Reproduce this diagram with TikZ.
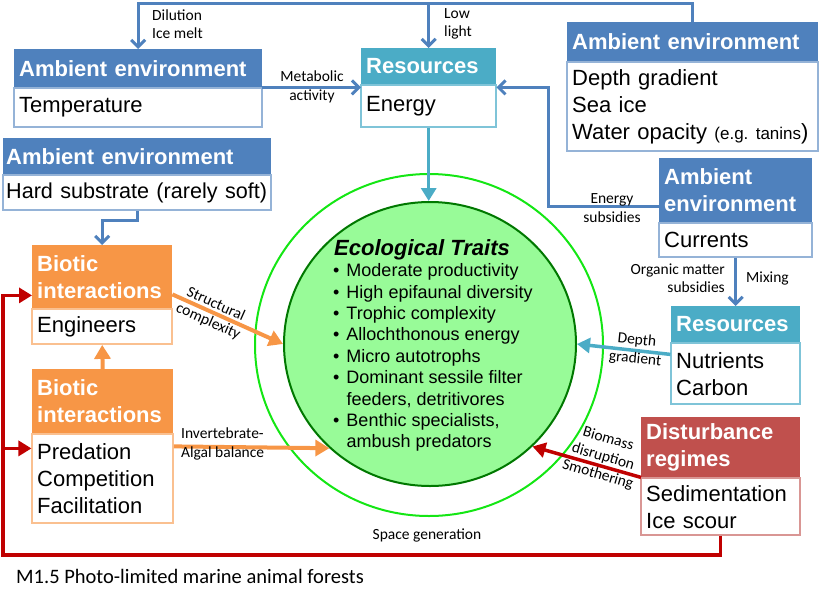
\documentclass[tikz,border=0pt]{standalone}
\usepackage{fontspec}
\setmainfont{Liberation Sans}
\newfontfamily\calibri{Carlito}
\usetikzlibrary{arrows.meta, positioning, shapes.geometric, calc}
\definecolor{ambient}{HTML}{4F81BD}
\definecolor{ambientln}{HTML}{95B3D7}
\definecolor{resource}{HTML}{4BACC6}
\definecolor{resourceln}{HTML}{7FC4D8}
\definecolor{biotic}{HTML}{F79646}
\definecolor{bioticln}{HTML}{FAC090}
\definecolor{disturb}{HTML}{C0504D}
\definecolor{disturbln}{HTML}{D99694}
\definecolor{deepred}{HTML}{C00000}
\definecolor{ringgreen}{RGB}{20,230,20}
\definecolor{discgreen}{RGB}{152,251,152}
\definecolor{discline}{RGB}{0,120,0}
\newcommand{\boxfont}{\fontsize{22}{27}\selectfont}
\frenchspacing
\tikzset{
    hdr/.style={
        fill=#1,
        text=white,
        font=\boxfont\bfseries,
        inner xsep=5pt,
        inner ysep=0pt,
        align=left
    },
    bodybox/.style={
        draw=#1,
        fill=white,
        line width=1.5pt,
        font=\boxfont,
        inner xsep=5pt,
        inner ysep=0pt,
        align=left
    },
    outerring/.style={ellipse, draw=ringgreen, line width=2pt, inner sep=0pt},
    traitsdisc/.style={ellipse, draw=discline, fill=discgreen, line width=2pt, inner sep=0pt},
    lbl/.style={font=\calibri\fontsize{15.5}{18.5}\selectfont, align=center, inner sep=1pt},
    bluearr/.style={draw=ambient, line width=3pt, line join=miter, -{Straight Barb[length=7pt, width=14pt]}},
    tealarr/.style={draw=resource, line width=3.5pt, -{Triangle[length=13pt, width=15pt]}},
    orangearr/.style={draw=biotic, line width=4pt, -{Triangle[length=14pt, width=16pt]}},
    redarr/.style={draw=deepred, line width=3.5pt, line join=miter, -{Triangle[length=13pt, width=15pt]}}
}

\begin{document}
\begin{tikzpicture}[x=1pt, y=-1pt]
\useasboundingbox (0,0) rectangle (819,600);

\node[hdr=ambient, text width=238pt, minimum height=38pt, anchor=north west] (tempH) at (14,49) {Ambient environment};
\node[bodybox=ambientln, text width=238pt, minimum height=39pt, below=0pt of tempH] (temp) {Temperature};

\node[hdr=ambient, text width=262pt, inner xsep=3pt, minimum height=36pt, anchor=north west] (hardH) at (3,138) {Ambient environment};
\node[bodybox=ambientln, text width=262pt, inner xsep=3pt, minimum height=35pt, below=0pt of hardH] (hard) {\fontsize{21.6}{27}\selectfont\mbox{Hard substrate (rarely soft)}};

\node[hdr=resource, text width=125pt, minimum height=36pt, anchor=north west] (energyH) at (361,48) {Resources};
\node[bodybox=resourceln, text width=125pt, minimum height=42pt, below=0pt of energyH] (energy) {Energy};

\node[hdr=ambient, text width=241pt, minimum height=39pt, anchor=north west] (depthH) at (567,22) {Ambient environment};
\node[bodybox=ambientln, text width=241pt, minimum height=89pt, below=0pt of depthH] (depth) {Depth gradient\\Sea ice\\Water opacity {\fontsize{17}{27}\selectfont(e.g. tanins})};

\node[hdr=ambient, text width=143pt, minimum height=64pt, anchor=north west] (currH) at (659,158) {Ambient\\environment};
\node[bodybox=ambientln, text width=143pt, minimum height=34pt, below=0pt of currH] (curr) {Currents};

\node[hdr=resource, text width=119pt, minimum height=36pt, anchor=north west] (nutrH) at (671,306) {Resources};
\node[bodybox=resourceln, text width=119pt, minimum height=61pt, below=0pt of nutrH] (nutr) {Nutrients\\Carbon};

\node[hdr=biotic, text width=130pt, minimum height=63pt, anchor=north west] (bioAH) at (32,245) {Biotic\\interactions};
\node[bodybox=bioticln, text width=130pt, minimum height=35pt, below=0pt of bioAH] (bioA) {Engineers};

\node[hdr=biotic, text width=131pt, minimum height=64pt, anchor=north west] (bioBH) at (32,369) {Biotic\\interactions};
\node[bodybox=bioticln, text width=131pt, minimum height=89pt, below=0pt of bioBH] (bioB) {Predation\\Competition\\Facilitation};

\node[hdr=disturb, text width=149pt, minimum height=60pt, anchor=north west] (distH) at (641,417) {Disturbance\\regimes};
\node[bodybox=disturbln, text width=149pt, minimum height=57pt, below=0pt of distH] (dist) {Sedimentation\\Ice scour};

\node[outerring, minimum width=348pt, minimum height=342pt] (ring) at (429,345) {};
\node[traitsdisc, minimum width=292pt, minimum height=284pt] (traits) at (430,344) {};
\node[font=\bfseries\itshape\fontsize{22}{26}\selectfont] (traitsT) at (422,250) {Ecological Traits};
\node[anchor=west, inner sep=0pt, font=\fontsize{18}{21.4}\selectfont] (traitsL) at (333,358) {%
\begin{tabular}{@{}l@{\hskip 7pt}l@{}}
\textbullet & Moderate productivity\\
\textbullet & High epifaunal diversity\\
\textbullet & Trophic complexity\\
\textbullet & Allochthonous energy\\
\textbullet & Micro autotrophs\\
\textbullet & Dominant sessile filter\\
 & feeders, detritivores\\
\textbullet & Benthic specialists,\\
 & ambush predators
\end{tabular}};

\coordinate (topY) at (0,3);
\coordinate (subsX) at (548,0);
\coordinate (loopL) at (3,555);
\coordinate (currOut) at ([yshift=-48pt]currH.north west);
\coordinate (energyIn) at ([yshift=-3pt]energyH.south east);
\coordinate (bioAIn) at ([yshift=13pt]bioAH.south west);
\coordinate (bioBIn) at ([yshift=-15pt]bioB.north west);
\coordinate (bioAOut) at ([yshift=14pt]bioAH.south east);
\coordinate (bioBOut) at ([yshift=-13pt]bioB.north east);
\coordinate (nutrOut) at ([yshift=-12pt]nutr.north west);

\draw[bluearr] (depthH.north) |- (tempH.north |- topY) -- (tempH.north);
\draw[bluearr] (energyH.north |- topY) -- (energyH.north);
\draw[bluearr] (tempH.south east) -- (tempH.south east -| energyH.west);
\draw[bluearr] (currOut) -- (currOut -| subsX) |- (energyIn);
\draw[bluearr] (hard.south) -- ++(0,10) -| (bioAH.north);
\draw[bluearr] (curr.south) -- (nutrH.north);

\draw[tealarr] (energy.south) -- (energy.south |- traits.north);
\draw[tealarr] (nutrOut) -- (traits.east);

\draw[orangearr] (bioBH.north) -- (bioA.south);
\draw[orangearr] (bioAOut) -- (traits.west);
\draw[orangearr] (bioBOut) -- (traits.226);

\draw[redarr] (distH.south west) -- (traits.-45);
\draw[redarr] (dist.south) |- (loopL) |- (bioAIn);
\draw[redarr] (bioBIn -| loopL) -- (bioBIn);

\node[lbl, align=left, anchor=west] (dilution) at (151,24) {Dilution\\Ice melt};
\node[lbl, align=left, anchor=west] (lowlight) at (443,24) {Low\\light};
\node[lbl] (metab) at (312,87) {Metabolic\\activity};
\node[lbl] (esubs) at (612,208) {Energy\\subsidies};
\node[lbl, align=right, anchor=east] (orgsubs) at (726,278) {Organic matter\\subsidies};
\node[lbl, anchor=west] (mixing) at (745,278) {Mixing};
\node[lbl, rotate=-24] (structc) at (212,313) {Structural\\complexity};
\node[lbl, align=left, anchor=west] (invalg) at (180,444) {Invertebrate-\\Algal balance};
\node[lbl, rotate=-5.5] (dgrad) at (636,350) {Depth\\gradient};
\node[lbl, rotate=-16.5] (biomass) at (603,457) {Biomass\\disruption\\Smothering};
\node[lbl] (spacegen) at (427,535) {Space generation};

\node[anchor=west, inner sep=0pt, font=\calibri\fontsize{20.5}{24}\selectfont] (caption) at (16,576) {M1.5 Photo-limited marine animal forests};
\end{tikzpicture}
\end{document}
